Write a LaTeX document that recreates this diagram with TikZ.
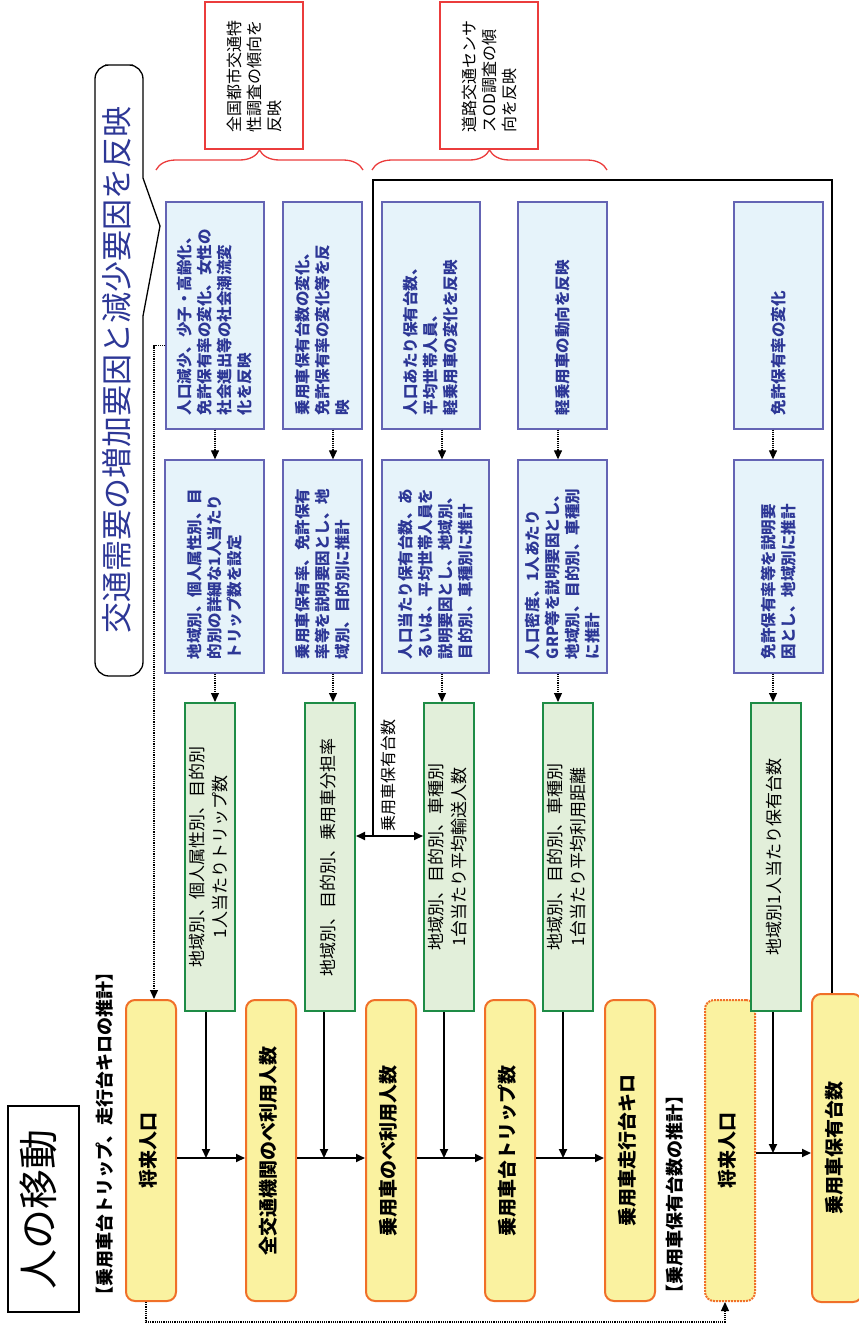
\documentclass[tikz,border=0pt]{standalone}
\usepackage{fontspec}
\setmainfont{Noto Sans CJK JP}
\usepackage{graphicx}
\usetikzlibrary{arrows.meta, positioning, decorations.pathreplacing}

\definecolor{yelfill}{RGB}{250,242,160}
\definecolor{yelline}{RGB}{240,112,40}
\definecolor{grnfill}{RGB}{226,239,218}
\definecolor{grnline}{RGB}{30,140,70}
\definecolor{bluefill}{RGB}{230,243,250}
\definecolor{blueline}{RGB}{100,100,180}
\definecolor{bluetext}{RGB}{45,55,150}
\definecolor{redline}{RGB}{235,60,60}

\newcommand{\vleft}[2]{\rotatebox{90}{\parbox{#1pt}{\raggedright #2}}}
\newcommand{\vcent}[1]{\rotatebox{90}{\begin{tabular}{@{}c@{}}#1\end{tabular}}}

\begin{document}
\begin{tikzpicture}[x=1pt, y=-1pt, >={Triangle[length=9pt,width=8pt]},
    yelbox/.style={draw=yelline, fill=yelfill, line width=2, rounded corners=9, minimum width=50, minimum height=301, inner sep=0, font=\fontsize{19}{23}\selectfont\bfseries},
    grnbox/.style={draw=grnline, fill=grnfill, line width=2, minimum width=50, minimum height=308, inner sep=0, font=\fontsize{17}{23}\selectfont},
    bluebox/.style={draw=blueline, fill=bluefill, line width=1.3, inner sep=0, text=bluetext, font=\fontsize{15.5}{20}\selectfont\bfseries},
    redbox/.style={draw=redline, line width=1.3, minimum width=98, minimum height=147, inner sep=0, font=\fontsize{16}{20}\selectfont},
    headlabel/.style={inner sep=0, anchor=south, font=\fontsize{18}{22}\selectfont\bfseries},
    flow/.style={->, line width=1.8},
    dotflow/.style={->, line width=1.2, densely dotted},
    ownline/.style={line width=2.5},
    note/.style={decorate, decoration={brace, amplitude=20}, draw=redline, line width=1.3}]
  \useasboundingbox (0,0) rectangle (859,1333);

  \node[draw, line width=1.5, minimum width=71, minimum height=206, inner sep=0, font=\fontsize{40}{44}\selectfont] (title) at (43.5,1209) {\vcent{人の移動}};
  \node[headlabel] (lab1) at (107,1305) {\vcent{【乗用車台トリップ、走行台キロの推計】}};
  \node[headlabel] (lab2) at (677,1303) {\vcent{【乗用車保有台数の推計】}};

  \node[yelbox] (pop1) at (151,1150.5) {\vcent{将来人口}};
  \node[yelbox, right=68pt of pop1] (allmode) {\vcent{全交通機関のべ利用人数}};
  \node[yelbox, right=68pt of allmode] (carpers) {\vcent{乗用車のべ利用人数}};
  \node[yelbox, right=67pt of carpers] (cartrip) {\vcent{乗用車台トリップ数}};
  \node[yelbox, right=68pt of cartrip] (carkm) {\vcent{乗用車走行台キロ}};
  \node[yelbox, densely dotted, right=48pt of carkm] (pop2) {\vcent{将来人口}};
  \node[yelbox, minimum height=308] (carown) at (837,1148) {\vcent{乗用車保有台数}};

  \node[grnbox] (g1) at (210,857) {\vcent{地域別、個人属性別、目的別\\1人当たりトリップ数}};
  \node[grnbox, right=68pt of g1] (g2) {\vcent{地域別、目的別、乗用車分担率}};
  \node[grnbox, right=67pt of g2] (g3) {\vcent{地域別、目的別、車種別\\1台当たり平均輸送人数}};
  \node[grnbox, right=67pt of g3] (g4) {\vcent{地域別、目的別、車種別\\1台当たり平均利用距離}};
  \node[grnbox] (g5) at (776,857) {\vcent{地域別1人当たり保有台数}};

  \node[bluebox, minimum width=98, minimum height=227] (b1) at (215,315.5) {\vleft{199}{人口減少、少子・高齢化、\\免許保有率の変化、女性の\\社会進出等の社会潮流変\\化を反映}};
  \node[bluebox, minimum width=79, minimum height=227] (b2) at (322.5,315.5) {\vleft{199}{乗用車保有台数の変化、\\免許保有率の変化等を反\\映}};
  \node[bluebox, minimum width=98, minimum height=227] (b3) at (431,315.5) {\vleft{199}{人口あたり保有台数、\\平均世帯人員、\\軽乗用車の変化を反映}};
  \node[bluebox, minimum width=89, minimum height=227] (b4) at (562.5,315.5) {\vleft{199}{軽乗用車の動向を反映}};
  \node[bluebox, minimum width=89, minimum height=227] (b5) at (778.5,315.5) {\vleft{199}{免許保有率の変化}};

  \node[bluebox, minimum width=99, minimum height=213] (b6) at (214.5,566.5) {\vleft{185}{地域別、個人属性別、目\\的別の詳細な1人当たり\\トリップ数を設定}};
  \node[bluebox, minimum width=79, minimum height=213] (b7) at (322.5,566.5) {\vleft{185}{乗用車保有率、免許保有\\率等を説明要因とし、地\\域別、目的別に推計}};
  \node[bluebox, minimum width=107, minimum height=213] (b8) at (435.5,566.5) {\vleft{185}{人口当たり保有台数、あ\\るいは、平均世帯人員を\\説明要因とし、地域別、\\目的別、車種別に推計}};
  \node[bluebox, minimum width=89, minimum height=213] (b9) at (562.5,566.5) {\vleft{185}{人口密度、1人あたり\\GRP等を説明要因とし、\\地域別、目的別、車種別\\に推計}};
  \node[bluebox, minimum width=89, minimum height=213] (b10) at (778.5,566.5) {\vleft{185}{免許保有率等を説明要\\因とし、地域別に推計}};

  \node[redbox] (r1) at (254,75.5) {\vleft{114}{全国都市交通特\\性調査の傾向を\\反映}};
  \node[redbox] (r2) at (489,75.5) {\vleft{114}{道路交通センサ\\スOD調査の傾\\向を反映}};
  \draw[note] (156,170) -- (363,170);
  \draw[note] (372,170) -- (607,170);

  \draw[line width=1.3] (119,65) [rounded corners=14] -- (143,65) [sharp corners] -- (143,178) -- (160,226) -- (143,316) [rounded corners=14] -- (143,676) -- (95,676) -- (95,65) -- cycle;
  \node[inner sep=0, text=bluetext, font=\fontsize{31}{35}\selectfont] (banner) at (121,370) {\vcent{交通需要の増加要因と減少要因を反映}};

  \coordinate (trow) at (0,1158);
  \coordinate (orow) at (0,1153);
  \coordinate (loopy) at (0,1322);
  \coordinate (owntop) at (373,180);
  \coordinate (split) at (373,836);

  \foreach \up/\low/\grn/\x in {b1/b6/g1/215, b2/b7/g2/333, b3/b8/g3/442, b4/b9/g4/558, b5/b10/g5/773} {
    \draw[dotflow] (\up.south -| \x,0) -- (\low.north -| \x,0);
    \draw[dotflow] (\low.south -| \x,0) -- (\grn.north -| \x,0);
  }

  \foreach \grn/\dx in {g1/-4, g2/-6, g3/-5, g4/-5}
    \draw[flow] ([xshift=\dx]\grn.south) -- ([xshift=\dx]\grn.south |- trow);
  \draw[flow] ([xshift=-3]g5.south) -- ([xshift=-3]g5.south |- orow);

  \draw[flow] (pop1.east |- trow) -- (allmode.west |- trow);
  \draw[flow] (allmode.east |- trow) -- (carpers.west |- trow);
  \draw[flow] (carpers.east |- trow) -- (cartrip.west |- trow);
  \draw[flow] (cartrip.east |- trow) -- (carkm.west |- trow);
  \draw[flow] (pop2.east |- orow) -- (carown.west |- orow);

  \draw[dotflow] ([yshift=-30]b1.west) -| ([xshift=3]pop1.north);
  \draw[dotflow] ([xshift=-5]pop1.south) -- ([xshift=-5]pop1.south |- loopy) -| ([xshift=-5]pop2.south);

  \draw[ownline] ([xshift=-5]carown.north) |- (owntop) -- (split);
  \draw[flow, <->] (g2.east |- split) -- (g3.west |- split);
  \node[inner sep=0, font=\fontsize{16}{20}\selectfont] (ownlab) at (390,775) {\vcent{乗用車保有台数}};
\end{tikzpicture}
\end{document}
